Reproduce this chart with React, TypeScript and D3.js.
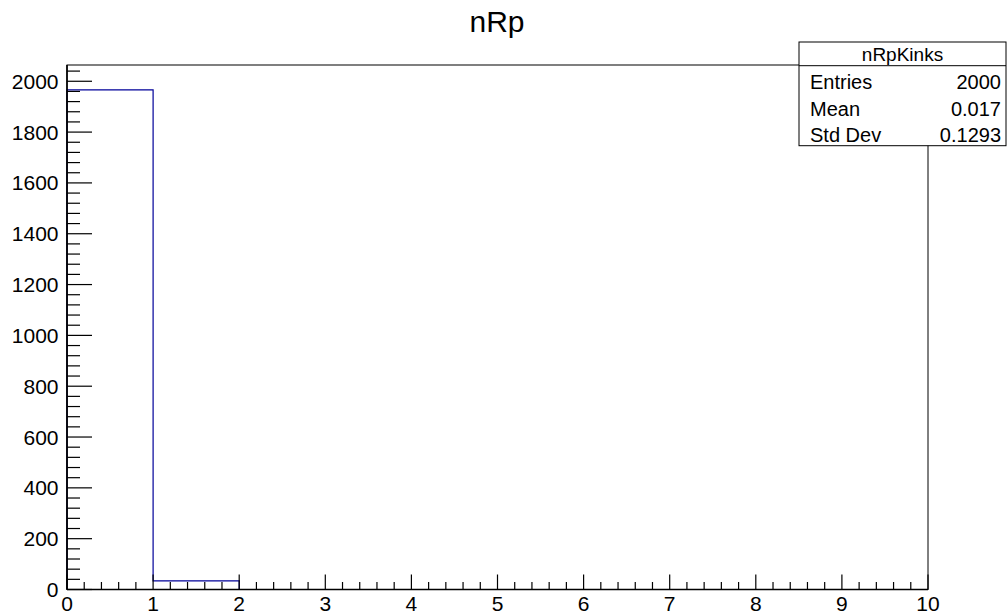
import { useMemo } from 'react';
import * as d3 from 'd3';

// histogram nRpKinks, 10 bins on [0,10]
const binLow = [0, 1, 2, 3, 4, 5, 6, 7, 8, 9];
const binCounts = [1966, 34, 0, 0, 0, 0, 0, 0, 0, 0];
const xTicks = [0, 1, 2, 3, 4, 5, 6, 7, 8, 9, 10];
const yTicks = [0, 200, 400, 600, 800, 1000, 1200, 1400, 1600, 1800, 2000];
const statNames = ['Entries', 'Mean', 'Std Dev'];
const statValues = ['2000', '0.017', '0.1293'];

const W = 1007;
const H = 615;
const FONT = '"Liberation Sans", Arial, Helvetica, sans-serif';
const LINE = '#000099';

export default function App() {
  const margin = { top: 65, right: 79, bottom: 25.5, left: 67 };
  const innerW = W - margin.left - margin.right;
  const innerH = H - margin.top - margin.bottom;

  const x = useMemo(() => d3.scaleLinear().domain([0, 10]).range([0, innerW]), [innerW]);
  const y = useMemo(() => d3.scaleLinear().domain([0, 2064]).range([innerH, 0]), [innerH]);

  // step outline of the histogram
  const pathD = useMemo(() => {
    const pts: [number, number][] = [[x(binLow[0]), y(0)]];
    binLow.forEach((lo, i) => {
      pts.push([x(lo), y(binCounts[i])]);
      pts.push([x(lo + 1), y(binCounts[i])]);
    });
    pts.push([x(binLow[binLow.length - 1] + 1), y(0)]);
    return d3.line()(pts) || '';
  }, [x, y]);

  const xMinor = d3.range(0, 10.001, 0.2).filter(v => Math.abs(v - Math.round(v)) > 1e-6);
  const yMinor = d3.range(0, 2064, 40).filter(v => v % 200 !== 0);

  const box = { x0: 799, x1: 1006, y0: 42, head: 65.7, y1: 145.7 };
  const rowH = (box.y1 - box.head) / 3;

  return (
    <svg width={W} height={H} style={{ position: 'absolute', left: 0, top: 0, background: '#fff' }} fontFamily={FONT}>
      <text x={497} y={32} textAnchor="middle" fontSize={30} fill="#000">nRp</text>

      <g transform={`translate(${margin.left},${margin.top})`}>
        <path d={pathD} fill="none" stroke={LINE} strokeWidth={1.2} />
        <rect x={0} y={0} width={innerW} height={innerH} fill="none" stroke="#000" strokeWidth={1} />

        {/* x axis */}
        <line x1={0} x2={innerW} y1={innerH} y2={innerH} stroke="#000" strokeWidth={1.6} />
        {xTicks.map(t => (
          <g key={`xt${t}`}>
            <line x1={x(t)} x2={x(t)} y1={innerH} y2={innerH - 15} stroke="#000" strokeWidth={1.2} />
            <text x={x(t)} y={innerH + 21.5} textAnchor="middle" fontSize={21}>{t}</text>
          </g>
        ))}
        {xMinor.map(t => (
          <line key={`xm${t}`} x1={x(t)} x2={x(t)} y1={innerH} y2={innerH - 7.5} stroke="#000" strokeWidth={1.2} />
        ))}

        {/* y axis */}
        <line x1={0} x2={0} y1={0} y2={innerH} stroke="#000" strokeWidth={1.6} />
        {yTicks.map(t => (
          <g key={`yt${t}`}>
            <line x1={0} x2={25} y1={y(t)} y2={y(t)} stroke="#000" strokeWidth={1.2} />
            <text x={-8.5} y={y(t) + 7.5} textAnchor="end" fontSize={21}>{t}</text>
          </g>
        ))}
        {yMinor.map(t => (
          <line key={`ym${t}`} x1={0} x2={13} y1={y(t)} y2={y(t)} stroke="#000" strokeWidth={1.2} />
        ))}
      </g>

      {/* stats box */}
      <rect x={box.x0} y={box.y0} width={box.x1 - box.x0} height={box.y1 - box.y0} fill="#fff" stroke="#000" strokeWidth={1} />
      <line x1={box.x0} x2={box.x1} y1={box.head} y2={box.head} stroke="#000" strokeWidth={1} />
      <text x={(box.x0 + box.x1) / 2} y={61.3} textAnchor="middle" fontSize={19}>nRpKinks</text>
      {statNames.map((n, i) => (
        <g key={n}>
          <text x={810} y={box.head + rowH * (i + 1) - 3.5} fontSize={20}>{n}</text>
          <text x={1001} y={box.head + rowH * (i + 1) - 3.5} textAnchor="end" fontSize={20}>{statValues[i]}</text>
        </g>
      ))}
    </svg>
  );
}
